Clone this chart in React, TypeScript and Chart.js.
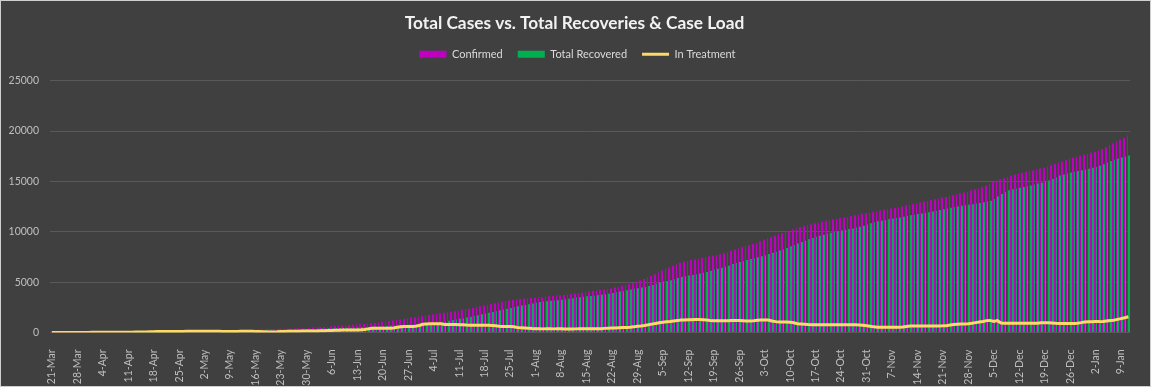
import React, { useEffect, useRef } from 'react';
import { Chart, registerables } from 'chart.js';

Chart.register(...registerables);

const MONTHS = ['Jan', 'Feb', 'Mar', 'Apr', 'May', 'Jun', 'Jul', 'Aug', 'Sep', 'Oct', 'Nov', 'Dec'];
const DAY_COUNT = 297;
const categories: string[] = [];
for (let i = 0; i < DAY_COUNT; i++) {
  const dt = new Date(Date.UTC(2020, 2, 21 + i));
  categories.push(`${dt.getUTCDate()}-${MONTHS[dt.getUTCMonth()]}`);
}

const confirmed = [
  1, 1, 2, 3, 4, 5, 6, 8, 9, 10,
  12, 14, 15, 17, 19, 21, 22, 24, 26, 28,
  30, 33, 36, 40, 45, 52, 60, 70, 85, 100,
  110, 118, 125, 132, 138, 145, 152, 160, 170, 180,
  195, 205, 220, 228, 235, 243, 250, 258, 265, 272,
  280, 287, 295, 302, 310, 315, 320, 325, 330, 335,
  340, 345, 350, 360, 365, 370, 380, 395, 410, 430,
  450, 470, 490, 510, 530, 555, 580, 620, 645, 670,
  695, 720, 745, 770, 800, 825, 845, 860, 900, 950,
  1000, 1050, 1090, 1140, 1190, 1240, 1300, 1350, 1400, 1460,
  1520, 1570, 1620, 1680, 1730, 1780, 1840, 1900, 1950, 2000,
  2060, 2110, 2170, 2230, 2280, 2350, 2430, 2520, 2600, 2680,
  2760, 2840, 2900, 2970, 3040, 3110, 3170, 3220, 3270, 3320,
  3370, 3400, 3430, 3460, 3490, 3510, 3550, 3590, 3620, 3660,
  3700, 3730, 3770, 3800, 3840, 3890, 3950, 4010, 4070, 4130,
  4170, 4210, 4250, 4300, 4380, 4460, 4550, 4640, 4720, 4820,
  4920, 5050, 5180, 5320, 5460, 5610, 5760, 5950, 6150, 6320,
  6450, 6620, 6780, 6920, 7050, 7130, 7200, 7260, 7330, 7400,
  7470, 7540, 7620, 7700, 7780, 7860, 7970, 8120, 8240, 8360,
  8470, 8580, 8690, 8800, 8920, 9040, 9200, 9330, 9460, 9600,
  9750, 9870, 9990, 10100, 10220, 10330, 10440, 10540, 10640, 10730,
  10820, 10910, 11000, 11090, 11170, 11240, 11300, 11360, 11420, 11480,
  11560, 11640, 11720, 11790, 11850, 11910, 11970, 12040, 12110, 12180,
  12250, 12310, 12370, 12440, 12520, 12600, 12680, 12750, 12830, 12910,
  12990, 13070, 13150, 13230, 13310, 13380, 13460, 13550, 13640, 13720,
  13800, 13900, 14000, 14100, 14200, 14300, 14420, 14580, 14780, 14950,
  15080, 15200, 15330, 15450, 15560, 15660, 15760, 15860, 15960, 16040,
  16100, 16190, 16280, 16370, 16490, 16610, 16740, 16870, 16990, 17110,
  17240, 17350, 17460, 17560, 17660, 17760, 17860, 17960, 18080, 18220,
  18400, 18600, 18780, 18970, 19150, 19350, 19600,
];

const recovered = [
  0, 0, 0, 0, 0, 0, 0, 0, 0, 0,
  0, 0, 0, 0, 0, 0, 0, 0, 0, 0,
  0, 0, 1, 1, 2, 2, 3, 4, 5, 8,
  12, 16, 20, 25, 30, 35, 42, 50, 58, 66,
  75, 85, 95, 105, 115, 125, 135, 145, 155, 165,
  170, 175, 180, 185, 190, 195, 205, 220, 245, 265,
  275, 280, 280, 285, 285, 290, 295, 300, 305, 315,
  325, 340, 355, 370, 385, 400, 415, 430, 440, 450,
  460, 470, 480, 490, 500, 515, 530, 545, 560, 580,
  600, 620, 645, 665, 685, 705, 725, 745, 760, 775,
  790, 805, 820, 840, 860, 900, 960, 1030, 1100, 1170,
  1240, 1300, 1360, 1420, 1480, 1560, 1640, 1720, 1800, 1880,
  1960, 2040, 2120, 2200, 2280, 2360, 2440, 2520, 2600, 2680,
  2740, 2800, 2880, 2960, 3030, 3070, 3110, 3150, 3180, 3210,
  3240, 3290, 3340, 3400, 3470, 3510, 3550, 3590, 3620, 3650,
  3700, 3750, 3800, 3850, 3920, 3990, 4060, 4130, 4200, 4270,
  4340, 4400, 4460, 4530, 4620, 4720, 4840, 4960, 5060, 5120,
  5200, 5300, 5420, 5500, 5580, 5650, 5720, 5790, 5860, 5940,
  6020, 6120, 6250, 6340, 6430, 6520, 6620, 6800, 6900, 7000,
  7080, 7200, 7290, 7380, 7480, 7570, 7680, 7800, 7920, 8030,
  8140, 8250, 8380, 8560, 8700, 8850, 8990, 9120, 9250, 9380,
  9500, 9600, 9700, 9800, 9900, 9980, 10060, 10130, 10200, 10270,
  10340, 10420, 10500, 10600, 10720, 10840, 10950, 11040, 11110, 11180,
  11250, 11310, 11370, 11430, 11500, 11570, 11640, 11700, 11760, 11820,
  11880, 11940, 12010, 12080, 12160, 12240, 12310, 12380, 12450, 12520,
  12580, 12630, 12690, 12740, 12800, 12860, 12930, 13000, 13080, 13260,
  13500, 13750, 13950, 14130, 14220, 14300, 14380, 14450, 14530, 14610,
  14700, 14790, 14880, 14970, 15100, 15250, 15420, 15600, 15700, 15790,
  15880, 15960, 16030, 16110, 16190, 16270, 16350, 16430, 16560, 16700,
  16850, 17030, 17150, 17260, 17370, 17470, 17570,
];

const inTreatment = [
  1, 1, 2, 3, 4, 5, 6, 8, 9, 10,
  12, 14, 15, 17, 18, 20, 21, 23, 25, 27,
  29, 32, 34, 38, 42, 48, 55, 64, 78, 90,
  96, 100, 102, 104, 105, 107, 109, 112, 115, 117,
  118, 118, 122, 120, 117, 115, 112, 110, 107, 104,
  107, 109, 112, 114, 117, 116, 110, 100, 80, 65,
  60, 60, 65, 90, 110, 120, 125, 130, 135, 140,
  145, 150, 155, 160, 170, 180, 195, 210, 225, 235,
  240, 245, 250, 255, 258, 262, 300, 360, 410, 420,
  420, 425, 425, 430, 440, 520, 580, 590, 595, 600,
  620, 700, 820, 850, 860, 865, 870, 860, 800, 790,
  790, 785, 780, 760, 740, 730, 725, 720, 720, 715,
  710, 700, 680, 620, 600, 595, 590, 560, 500, 460,
  440, 420, 390, 370, 365, 360, 360, 365, 360, 360,
  360, 355, 355, 355, 360, 360, 360, 360, 360, 360,
  365, 375, 410, 430, 440, 445, 470, 490, 500, 520,
  560, 620, 650, 700, 760, 830, 900, 970, 1020, 1060,
  1100, 1150, 1180, 1230, 1250, 1260, 1270, 1280, 1280, 1270,
  1250, 1200, 1170, 1160, 1160, 1160, 1170, 1180, 1190, 1180,
  1170, 1150, 1140, 1170, 1210, 1240, 1250, 1240, 1150, 1080,
  1050, 1040, 1040, 1030, 960, 880, 850, 820, 790, 780,
  770, 770, 765, 765, 770, 770, 765, 760, 770, 780,
  770, 760, 750, 720, 680, 620, 560, 530, 520, 520,
  520, 525, 525, 525, 540, 600, 640, 650, 650, 650,
  650, 655, 655, 650, 650, 660, 680, 740, 800, 830,
  840, 850, 870, 920, 980, 1040, 1100, 1180, 1200, 1100,
  1180, 950, 920, 910, 910, 910, 910, 910, 910, 915,
  920, 930, 960, 980, 970, 940, 910, 900, 900, 900,
  900, 900, 920, 980, 1050, 1070, 1070, 1080, 1080, 1090,
  1150, 1190, 1220, 1300, 1380, 1460, 1570,
];

const yTicks = [0, 5000, 10000, 15000, 20000, 25000];

const COLOR_CONFIRMED = '#C000C0';
const COLOR_RECOVERED = '#00B050';
const COLOR_TREATMENT = '#FFD966';
const FONT = 'Lato, "Open Sans", sans-serif';

export default function App() {
  const canvasRef = useRef<HTMLCanvasElement>(null);

  useEffect(() => {
    if (!canvasRef.current) return;
    const legendSpacer = {
      id: 'legendSpacer',
      beforeInit(chart: any) {
        const leg = chart.legend;
        if (!leg) return;
        const origFit = leg.fit;
        leg.fit = function () {
          origFit.call(this);
          this.height += 11;
        };
      },
      afterLayout(chart: any) {
        const leg = chart.legend;
        if (!leg) return;
        leg.left += 3;
        leg.right += 3;
      },
    };

    // snap bar edges to whole pixels so the thin bars stay crisp
    const crispBars = {
      id: 'crispBars',
      afterDatasetsUpdate(chart: any) {
        chart.data.datasets.forEach((_ds: any, i: number) => {
          const meta = chart.getDatasetMeta(i);
          if (meta.type !== 'bar') return;
          meta.data.forEach((el: any) => {
            const l = Math.round(el.x - el.width / 2);
            const r = Math.max(l + 1, Math.round(el.x + el.width / 2));
            el.x = (l + r) / 2;
            el.width = r - l;
          });
        });
      },
    };

    const chart = new Chart(canvasRef.current, {
      type: 'bar',
      data: {
        labels: categories,
        datasets: [
          {
            type: 'bar',
            label: 'Confirmed',
            data: confirmed,
            backgroundColor: COLOR_CONFIRMED,
            categoryPercentage: 0.9,
            barPercentage: 1,
            order: 1,
          },
          {
            type: 'bar',
            label: 'Total Recovered',
            data: recovered,
            backgroundColor: COLOR_RECOVERED,
            categoryPercentage: 0.9,
            barPercentage: 1,
            order: 1,
          },
          {
            type: 'line',
            label: 'In Treatment',
            data: inTreatment,
            borderColor: COLOR_TREATMENT,
            backgroundColor: COLOR_TREATMENT,
            borderWidth: 3,
            pointRadius: 0,
            tension: 0,
            order: 0,
          },
        ] as any,
      },
      plugins: [legendSpacer, crispBars],
      options: {
        responsive: false,
        animation: false,
        devicePixelRatio: 1,
        layout: { padding: { left: 0, right: 2, top: 0, bottom: 0 } },
        plugins: {
          title: {
            display: true,
            text: 'Total Cases vs. Total Recoveries & Case Load',
            color: '#f2f2f2',
            font: { family: FONT, size: 17.3, weight: 'bold' },
            padding: { top: 12, bottom: 0 },
          },
          legend: {
            display: true,
            position: 'top',
            labels: {
              usePointStyle: true,
              pointStyleWidth: 27,
              boxHeight: 7,
              padding: 15,
              color: '#d9d9d9',
              font: { family: FONT, size: 11 },
              generateLabels: () => [
                { text: 'Confirmed', fillStyle: COLOR_CONFIRMED, strokeStyle: COLOR_CONFIRMED, lineWidth: 0, pointStyle: 'rect', fontColor: '#d9d9d9', hidden: false, datasetIndex: 0 },
                { text: 'Total Recovered', fillStyle: COLOR_RECOVERED, strokeStyle: COLOR_RECOVERED, lineWidth: 0, pointStyle: 'rect', fontColor: '#d9d9d9', hidden: false, datasetIndex: 1 },
                { text: 'In Treatment', fillStyle: COLOR_TREATMENT, strokeStyle: COLOR_TREATMENT, lineWidth: 3, pointStyle: 'line', fontColor: '#d9d9d9', hidden: false, datasetIndex: 2 },
              ] as any,
            },
          },
          tooltip: { enabled: false },
        },
        scales: {
          x: {
            grid: { display: false },
            border: { display: false },
            afterFit: (axis: any) => {
              axis.height = 53.5;
            },
            ticks: {
              autoSkip: false,
              maxRotation: 90,
              minRotation: 90,
              padding: 9,
              color: '#bfbfbf',
              font: { family: FONT, size: 10.5 },
              callback: (_v: any, i: number) => (i % 7 === 0 ? categories[i] : ''),
            },
          },
          y: {
            min: yTicks[0],
            max: yTicks[yTicks.length - 1],
            grid: { color: '#595959', drawTicks: false, lineWidth: 1 },
            border: { display: false },
            afterFit: (axis: any) => {
              axis.width = 49;
            },
            afterBuildTicks: (axis: any) => {
              axis.ticks = yTicks.map((v) => ({ value: v }));
            },
            ticks: {
              padding: 11,
              color: '#bfbfbf',
              font: { family: FONT, size: 10.5 },
              callback: (v: any) => String(v),
            },
          },
          ySpacer: {
            type: 'linear',
            position: 'right',
            display: true,
            grid: { display: false, drawTicks: false },
            border: { display: false },
            ticks: { display: false },
            afterFit: (axis: any) => {
              axis.width = 11;
            },
          },
        },
      } as any,
    });
    return () => chart.destroy();
  }, []);

  return (
    <div
      style={{
        position: 'fixed',
        left: 0,
        top: 0,
        width: 1151,
        height: 387,
        boxSizing: 'border-box',
        border: '1px solid #cfcfcf',
        background: '#404040',
      }}
    >
      <canvas ref={canvasRef} width={1149} height={385} style={{ display: 'block' }} />
    </div>
  );
}
